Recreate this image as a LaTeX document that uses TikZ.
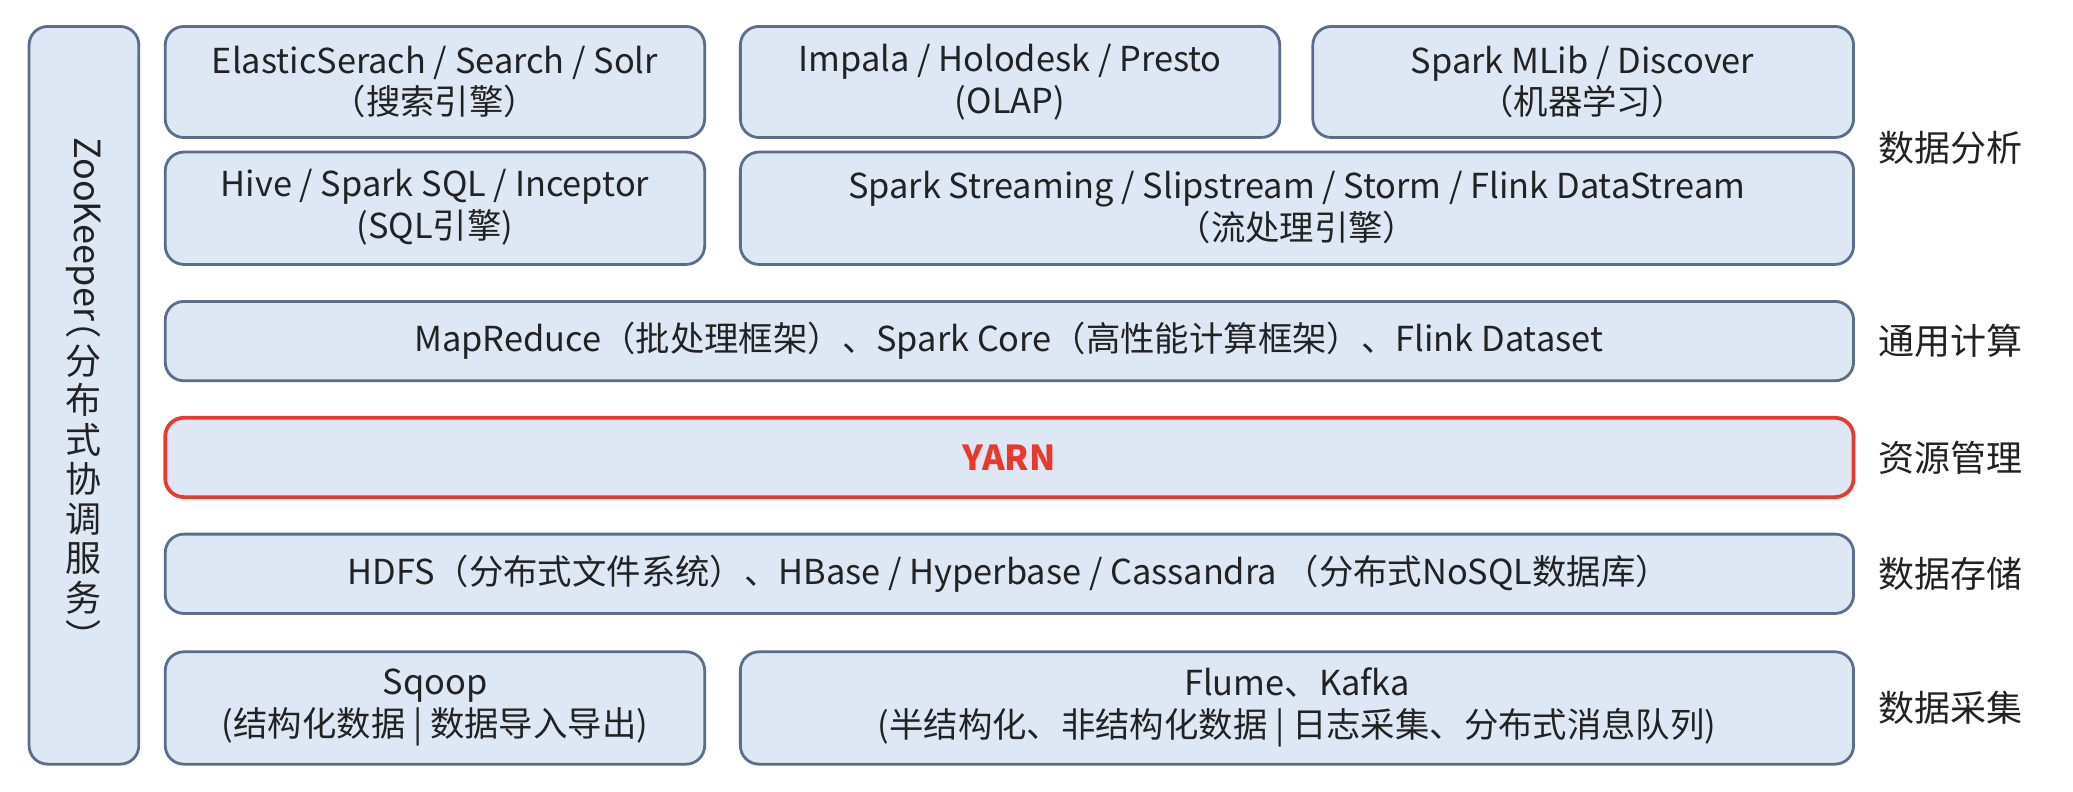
\documentclass[tikz,border=0pt]{standalone}
\usepackage{fontspec}
\setmainfont{Noto Sans CJK SC}
\usepackage{graphicx}
\definecolor{boxfill}{HTML}{DEE8F4}
\definecolor{boxline}{HTML}{5A6E8C}
\definecolor{yarnred}{HTML}{E8392C}
\definecolor{txt}{HTML}{222222}
\begin{document}
\begin{tikzpicture}[x=0.02cm,y=-0.02cm,
  blk/.style={draw=boxline,line width=1.2pt,fill=boxfill,rounded corners=8pt},
  bt/.style={font=\fontsize{14.8pt}{18pt}\selectfont,text=txt,align=center},
  lab/.style={font=\fontsize{15.5pt}{18pt}\selectfont,text=txt}]
\useasboundingbox (0,0) rectangle (1568,599);
\fill[white] (0,0) rectangle (1568,599);
% zookeeper
\draw[blk] (22,20) rectangle (105,578);
\node[bt,inner sep=0pt,font=\fontsize{15.5pt}{17pt}\selectfont] (zk) at (63.5,298) {\rotatebox{-90}{ZooKeeper}\\[2pt]︵\\分\\布\\式\\协\\调\\服\\务\\︶};
% row1
\draw[blk] (125,20) rectangle (533,104); \node[bt] (es) at (329,62) {ElasticSerach / Search / Solr\\（搜索引擎）};
\draw[blk] (560,20) rectangle (968,104); \node[bt] (im) at (764,62) {Impala / Holodesk / Presto\\(OLAP)};
\draw[blk] (993,20) rectangle (1402,104); \node[bt] (ml) at (1197,62) {Spark MLib / Discover\\（机器学习）};
% row2
\draw[blk] (125,115) rectangle (533,200); \node[bt] (hv) at (329,157) {Hive / Spark SQL / Inceptor\\(SQL引擎)};
\draw[blk] (560,115) rectangle (1402,200); \node[bt] (st) at (981,157) {Spark Streaming / Slipstream / Storm / Flink DataStream\\（流处理引擎）};
% row3
\draw[blk] (125,228) rectangle (1402,288); \node[bt] (mr) at (763,258) {MapReduce（批处理框架）、Spark Core（高性能计算框架）、Flink Dataset};
\draw[blk,draw=yarnred,line width=1.6pt] (125,316) rectangle (1402,376); \node[bt,text=yarnred,font=\fontsize{14.8pt}{18pt}\bfseries\selectfont] (yarn) at (763,346) {YARN};
\draw[blk] (125,404) rectangle (1402,464); \node[bt] (hdfs) at (763,434) {HDFS（分布式文件系统）、HBase / Hyperbase / Cassandra （分布式NoSQL数据库）};
\draw[blk] (125,493) rectangle (533,578); \node[bt] (sq) at (329,535) {Sqoop\\(结构化数据 | 数据导入导出)};
\draw[blk] (560,493) rectangle (1402,578); \node[bt] (fl) at (981,535) {Flume、Kafka\\(半结构化、非结构化数据 | 日志采集、分布式消息队列)};
% labels
\node[lab] (l1) at (1475,112) {数据分析};
\node[lab] (l2) at (1475,258) {通用计算};
\node[lab] (l3) at (1475,346) {资源管理};
\node[lab] (l4) at (1475,434) {数据存储};
\node[lab] (l5) at (1475,535) {数据采集};
\end{tikzpicture}
\end{document}
